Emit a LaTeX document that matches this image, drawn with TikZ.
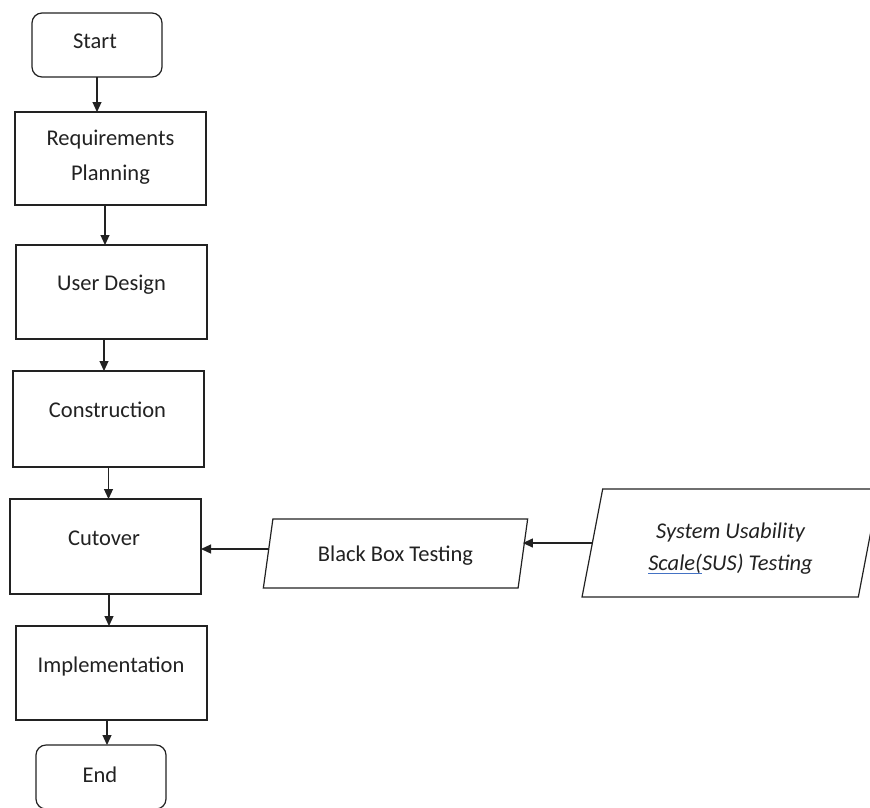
\documentclass[tikz,border=0pt]{standalone}
\usepackage{fontspec}
\setmainfont{Carlito}
\usetikzlibrary{arrows.meta,shapes.geometric}
\definecolor{ulblue}{HTML}{4472C4}
\definecolor{ink}{HTML}{222222}
\newsavebox\spellbox
\newcommand\spellul[1]{\sbox\spellbox{#1}\rlap{\textcolor{ulblue}{\rule[-3.5pt]{\wd\spellbox}{1.2pt}}}\usebox\spellbox}
\begin{document}
\begin{tikzpicture}[x=1pt,y=-1pt,
  box/.style={draw=ink, line width=1.2pt, inner sep=0pt, outer sep=0pt},
  rbox/.style={box, rounded corners=10pt},
  para/.style={draw=ink, line width=1.2pt, trapezium, trapezium stretches=true, inner sep=2pt, outer sep=0pt, text=ink, font=\fontsize{22.5}{32}\selectfont, align=center},
  lbl/.style={inner sep=0pt, font=\fontsize{22.5}{34.5}\selectfont, anchor=base, text=ink},
  arr/.style={draw=ink, line width=1.2pt, -{Triangle[length=10pt,width=9pt]}}]
\useasboundingbox (0,0) rectangle (870,807);
\clip (0,0) rectangle (870,807);
\fill[white] (0,0) rectangle (870,807);
% boxes
\node[rbox, minimum width=130pt, minimum height=64pt] (start) at (97,45) {};
\node[box, minimum width=191pt, minimum height=93pt] (req) at (110.5,158.5) {};
\node[box, minimum width=191pt, minimum height=94pt] (ud) at (111.5,292) {};
\node[box, minimum width=191pt, minimum height=96pt] (cons) at (108.5,419) {};
\node[box, minimum width=191pt, minimum height=95pt] (cut) at (105.5,546.5) {};
\node[box, minimum width=191pt, minimum height=94pt] (impl) at (111.5,673) {};
\node[rbox, minimum width=130pt, minimum height=64pt] (end) at (101,777) {};
\node[para, trapezium left angle=77, trapezium right angle=103, minimum width=265pt, minimum height=69pt] (bbt) at (395.5,553.5) {\rule{0pt}{19pt}Black Box Testing};
\node[para, font=\fontsize{22.5}{32}\selectfont\itshape, trapezium left angle=78.5, trapezium right angle=101.5, minimum width=297pt, minimum height=108pt] (sus) at (730.5,543) {\rule{0pt}{27pt}System Usability\\\spellul{Scale(}SUS) Testing};
% labels
\node[lbl] (startT) at (95,48) {Start};
\node[lbl, align=center] (reqT) at (110.5,180) {Requirements\\Planning};
\node[lbl] (udT) at (111.5,290) {User Design};
\node[lbl] (consT) at (107.5,417) {Construction};
\node[lbl] (cutT) at (104,545) {Cutover};
\node[lbl] (implT) at (111,672) {Implementation};
\node[lbl] (endT) at (100,782) {End};
% connectors
\draw[arr] (start.south) -- (start.south |- req.north);
\draw[arr] ([xshift=-5.5pt]req.south) -- ([xshift=-5.5pt]req.south |- ud.north);
\draw[arr] ([xshift=-7.5pt]ud.south) -- ([xshift=-7.5pt]ud.south |- cons.north);
\draw[arr] (cons.south) -- (cons.south |- cut.north);
\draw[arr] ([xshift=3.5pt]cut.south) -- ([xshift=3.5pt]cut.south |- impl.north);
\draw[arr] ([xshift=-4.5pt]impl.south) -- ([xshift=-4.5pt]impl.south |- end.north);
\draw[arr] (sus.left side) -- (sus.left side -| bbt.right side);
\coordinate (bbtout) at ([yshift=4.5pt]bbt.left side);
\draw[arr] (bbtout) -- (bbtout -| cut.east);
\end{tikzpicture}
\end{document}
